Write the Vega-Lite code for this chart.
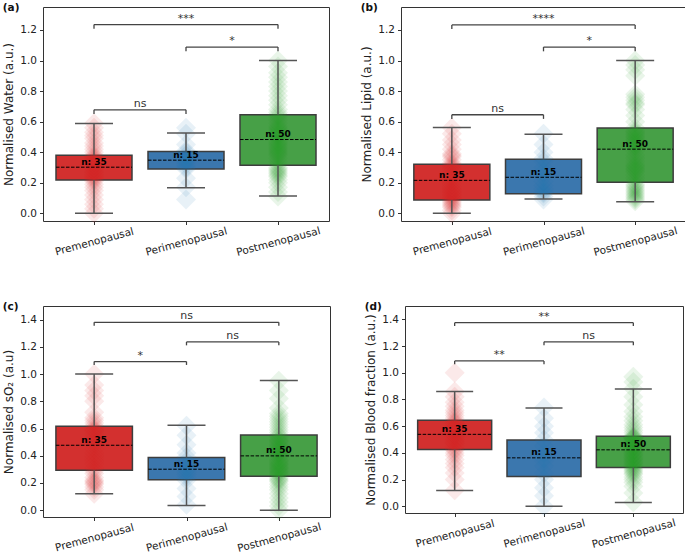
{
"$schema": "https://vega.github.io/schema/vega-lite/v6.json",
"background": "white",
"padding": {"left": 2, "top": 2, "right": 0, "bottom": 0},
"config": {
 "font": "DejaVu Sans",
 "view": {"stroke": "#333", "strokeWidth": 1},
 "axis": {"grid": false, "domain": false, "labelOverlap": false, "tickColor": "#333", "tickSize": 3.5, "tickWidth": 1, "labelFont": "DejaVu Sans", "labelFontSize": 10.5, "labelColor": "#222", "titleFont": "DejaVu Sans", "titleFontSize": 12, "titleFontWeight": "normal", "titleColor": "#222", "labelPadding": 3, "titlePadding": 4},
 "axisY": {"tickCount": 8, "format": ".1f", "labelOverlap": false},
 "title": {"font": "DejaVu Sans", "fontSize": 10.5, "fontWeight": "bold", "anchor": "start", "frame": "bounds", "offset": -6, "color": "#111"}
},
"datasets": {
 "box": [
  {"p":"a","g":0,"lo":0,"q1":0.218,"med":0.302,"q3":0.380,"hi":0.588,"n":"n: 35"},
  {"p":"a","g":1,"lo":0.168,"q1":0.29,"med":0.348,"q3":0.404,"hi":0.525,"n":"n: 15"},
  {"p":"a","g":2,"lo":0.113,"q1":0.315,"med":0.483,"q3":0.645,"hi":1.0,"n":"n: 50"},
  {"p":"b","g":0,"lo":0,"q1":0.087,"med":0.216,"q3":0.321,"hi":0.561,"n":"n: 35"},
  {"p":"b","g":1,"lo":0.094,"q1":0.129,"med":0.236,"q3":0.354,"hi":0.518,"n":"n: 15"},
  {"p":"b","g":2,"lo":0.076,"q1":0.203,"med":0.42,"q3":0.559,"hi":1.0,"n":"n: 50"},
  {"p":"c","g":0,"lo":0.12,"q1":0.294,"med":0.477,"q3":0.617,"hi":1.0,"n":"n: 35"},
  {"p":"c","g":1,"lo":0.035,"q1":0.223,"med":0.301,"q3":0.387,"hi":0.624,"n":"n: 15"},
  {"p":"c","g":2,"lo":0,"q1":0.25,"med":0.399,"q3":0.553,"hi":0.952,"n":"n: 50"},
  {"p":"d","g":0,"lo":0.118,"q1":0.426,"med":0.539,"q3":0.644,"hi":0.859,"n":"n: 35"},
  {"p":"d","g":1,"lo":0,"q1":0.223,"med":0.363,"q3":0.496,"hi":0.736,"n":"n: 15"},
  {"p":"d","g":2,"lo":0.028,"q1":0.291,"med":0.423,"q3":0.524,"hi":0.879,"n":"n: 50"}
 ],
 "br": [
  {"p":"a","x1":0,"x2":2,"xm":1,"y":1.235,"lo":1.208,"lab":"***"},
  {"p":"a","x1":1,"x2":2,"xm":1.5,"y":1.088,"lo":1.06,"lab":"*"},
  {"p":"a","x1":0,"x2":1,"xm":0.5,"y":0.677,"lo":0.65,"lab":"ns"},
  {"p":"b","x1":0,"x2":2,"xm":1,"y":1.233,"lo":1.206,"lab":"****"},
  {"p":"b","x1":1,"x2":2,"xm":1.5,"y":1.088,"lo":1.06,"lab":"*"},
  {"p":"b","x1":0,"x2":1,"xm":0.5,"y":0.645,"lo":0.618,"lab":"ns"},
  {"p":"c","x1":0,"x2":2,"xm":1,"y":1.38,"lo":1.355,"lab":"ns"},
  {"p":"c","x1":1,"x2":2,"xm":1.5,"y":1.236,"lo":1.211,"lab":"ns"},
  {"p":"c","x1":0,"x2":1,"xm":0.5,"y":1.092,"lo":1.067,"lab":"*"},
  {"p":"d","x1":0,"x2":2,"xm":1,"y":1.375,"lo":1.35,"lab":"**"},
  {"p":"d","x1":1,"x2":2,"xm":1.5,"y":1.232,"lo":1.207,"lab":"ns"},
  {"p":"d","x1":0,"x2":1,"xm":0.5,"y":1.089,"lo":1.064,"lab":"**"}
 ],
 "pts": [
  {"p":"a","g":0,"v":0.00},{"p":"a","g":0,"v":0.03},{"p":"a","g":0,"v":0.06},{"p":"a","g":0,"v":0.09},{"p":"a","g":0,"v":0.12},{"p":"a","g":0,"v":0.15},{"p":"a","g":0,"v":0.17},{"p":"a","g":0,"v":0.19},{"p":"a","g":0,"v":0.21},{"p":"a","g":0,"v":0.22},{"p":"a","g":0,"v":0.23},{"p":"a","g":0,"v":0.24},{"p":"a","g":0,"v":0.25},{"p":"a","g":0,"v":0.26},{"p":"a","g":0,"v":0.27},{"p":"a","g":0,"v":0.28},{"p":"a","g":0,"v":0.29},{"p":"a","g":0,"v":0.30},{"p":"a","g":0,"v":0.31},{"p":"a","g":0,"v":0.32},{"p":"a","g":0,"v":0.33},{"p":"a","g":0,"v":0.34},{"p":"a","g":0,"v":0.35},{"p":"a","g":0,"v":0.36},{"p":"a","g":0,"v":0.37},{"p":"a","g":0,"v":0.38},{"p":"a","g":0,"v":0.40},{"p":"a","g":0,"v":0.42},{"p":"a","g":0,"v":0.44},{"p":"a","g":0,"v":0.46},{"p":"a","g":0,"v":0.49},{"p":"a","g":0,"v":0.51},{"p":"a","g":0,"v":0.53},{"p":"a","g":0,"v":0.56},{"p":"a","g":0,"v":0.59},
  {"p":"a","g":1,"v":0.09},{"p":"a","g":1,"v":0.17},{"p":"a","g":1,"v":0.23},{"p":"a","g":1,"v":0.29},{"p":"a","g":1,"v":0.30},{"p":"a","g":1,"v":0.32},{"p":"a","g":1,"v":0.34},{"p":"a","g":1,"v":0.35},{"p":"a","g":1,"v":0.36},{"p":"a","g":1,"v":0.38},{"p":"a","g":1,"v":0.40},{"p":"a","g":1,"v":0.41},{"p":"a","g":1,"v":0.45},{"p":"a","g":1,"v":0.52},{"p":"a","g":1,"v":0.56},
  {"p":"a","g":2,"v":0.11},{"p":"a","g":2,"v":0.14},{"p":"a","g":2,"v":0.17},{"p":"a","g":2,"v":0.20},{"p":"a","g":2,"v":0.22},{"p":"a","g":2,"v":0.24},{"p":"a","g":2,"v":0.25},{"p":"a","g":2,"v":0.26},{"p":"a","g":2,"v":0.27},{"p":"a","g":2,"v":0.28},{"p":"a","g":2,"v":0.29},{"p":"a","g":2,"v":0.30},{"p":"a","g":2,"v":0.32},{"p":"a","g":2,"v":0.34},{"p":"a","g":2,"v":0.36},{"p":"a","g":2,"v":0.38},{"p":"a","g":2,"v":0.39},{"p":"a","g":2,"v":0.40},{"p":"a","g":2,"v":0.41},{"p":"a","g":2,"v":0.42},{"p":"a","g":2,"v":0.43},{"p":"a","g":2,"v":0.44},{"p":"a","g":2,"v":0.45},{"p":"a","g":2,"v":0.46},{"p":"a","g":2,"v":0.47},{"p":"a","g":2,"v":0.49},{"p":"a","g":2,"v":0.50},{"p":"a","g":2,"v":0.51},{"p":"a","g":2,"v":0.52},{"p":"a","g":2,"v":0.53},{"p":"a","g":2,"v":0.54},{"p":"a","g":2,"v":0.55},{"p":"a","g":2,"v":0.56},{"p":"a","g":2,"v":0.57},{"p":"a","g":2,"v":0.59},{"p":"a","g":2,"v":0.61},{"p":"a","g":2,"v":0.63},{"p":"a","g":2,"v":0.645},{"p":"a","g":2,"v":0.66},{"p":"a","g":2,"v":0.68},{"p":"a","g":2,"v":0.71},{"p":"a","g":2,"v":0.74},{"p":"a","g":2,"v":0.77},{"p":"a","g":2,"v":0.80},{"p":"a","g":2,"v":0.83},{"p":"a","g":2,"v":0.86},{"p":"a","g":2,"v":0.89},{"p":"a","g":2,"v":0.92},{"p":"a","g":2,"v":0.96},{"p":"a","g":2,"v":1.00},
  {"p":"b","g":0,"v":0.00},{"p":"b","g":0,"v":0.02},{"p":"b","g":0,"v":0.04},{"p":"b","g":0,"v":0.05},{"p":"b","g":0,"v":0.06},{"p":"b","g":0,"v":0.07},{"p":"b","g":0,"v":0.08},{"p":"b","g":0,"v":0.09},{"p":"b","g":0,"v":0.10},{"p":"b","g":0,"v":0.11},{"p":"b","g":0,"v":0.12},{"p":"b","g":0,"v":0.13},{"p":"b","g":0,"v":0.14},{"p":"b","g":0,"v":0.15},{"p":"b","g":0,"v":0.16},{"p":"b","g":0,"v":0.17},{"p":"b","g":0,"v":0.19},{"p":"b","g":0,"v":0.21},{"p":"b","g":0,"v":0.23},{"p":"b","g":0,"v":0.25},{"p":"b","g":0,"v":0.27},{"p":"b","g":0,"v":0.29},{"p":"b","g":0,"v":0.30},{"p":"b","g":0,"v":0.31},{"p":"b","g":0,"v":0.32},{"p":"b","g":0,"v":0.33},{"p":"b","g":0,"v":0.35},{"p":"b","g":0,"v":0.37},{"p":"b","g":0,"v":0.38},{"p":"b","g":0,"v":0.39},{"p":"b","g":0,"v":0.42},{"p":"b","g":0,"v":0.45},{"p":"b","g":0,"v":0.48},{"p":"b","g":0,"v":0.52},{"p":"b","g":0,"v":0.56},
  {"p":"b","g":1,"v":0.09},{"p":"b","g":1,"v":0.11},{"p":"b","g":1,"v":0.13},{"p":"b","g":1,"v":0.14},{"p":"b","g":1,"v":0.16},{"p":"b","g":1,"v":0.18},{"p":"b","g":1,"v":0.21},{"p":"b","g":1,"v":0.24},{"p":"b","g":1,"v":0.27},{"p":"b","g":1,"v":0.30},{"p":"b","g":1,"v":0.34},{"p":"b","g":1,"v":0.36},{"p":"b","g":1,"v":0.40},{"p":"b","g":1,"v":0.45},{"p":"b","g":1,"v":0.52},
  {"p":"b","g":2,"v":0.08},{"p":"b","g":2,"v":0.09},{"p":"b","g":2,"v":0.10},{"p":"b","g":2,"v":0.11},{"p":"b","g":2,"v":0.12},{"p":"b","g":2,"v":0.13},{"p":"b","g":2,"v":0.14},{"p":"b","g":2,"v":0.15},{"p":"b","g":2,"v":0.16},{"p":"b","g":2,"v":0.17},{"p":"b","g":2,"v":0.18},{"p":"b","g":2,"v":0.19},{"p":"b","g":2,"v":0.21},{"p":"b","g":2,"v":0.23},{"p":"b","g":2,"v":0.25},{"p":"b","g":2,"v":0.27},{"p":"b","g":2,"v":0.28},{"p":"b","g":2,"v":0.29},{"p":"b","g":2,"v":0.30},{"p":"b","g":2,"v":0.31},{"p":"b","g":2,"v":0.32},{"p":"b","g":2,"v":0.34},{"p":"b","g":2,"v":0.36},{"p":"b","g":2,"v":0.38},{"p":"b","g":2,"v":0.41},{"p":"b","g":2,"v":0.43},{"p":"b","g":2,"v":0.44},{"p":"b","g":2,"v":0.45},{"p":"b","g":2,"v":0.46},{"p":"b","g":2,"v":0.47},{"p":"b","g":2,"v":0.48},{"p":"b","g":2,"v":0.49},{"p":"b","g":2,"v":0.50},{"p":"b","g":2,"v":0.51},{"p":"b","g":2,"v":0.52},{"p":"b","g":2,"v":0.53},{"p":"b","g":2,"v":0.54},{"p":"b","g":2,"v":0.56},{"p":"b","g":2,"v":0.60},{"p":"b","g":2,"v":0.64},{"p":"b","g":2,"v":0.68},{"p":"b","g":2,"v":0.71},{"p":"b","g":2,"v":0.72},{"p":"b","g":2,"v":0.74},{"p":"b","g":2,"v":0.76},{"p":"b","g":2,"v":0.78},{"p":"b","g":2,"v":0.90},{"p":"b","g":2,"v":0.94},{"p":"b","g":2,"v":0.97},{"p":"b","g":2,"v":1.00},
  {"p":"c","g":0,"v":0.12},{"p":"c","g":0,"v":0.15},{"p":"c","g":0,"v":0.17},{"p":"c","g":0,"v":0.19},{"p":"c","g":0,"v":0.20},{"p":"c","g":0,"v":0.21},{"p":"c","g":0,"v":0.22},{"p":"c","g":0,"v":0.24},{"p":"c","g":0,"v":0.27},{"p":"c","g":0,"v":0.29},{"p":"c","g":0,"v":0.31},{"p":"c","g":0,"v":0.34},{"p":"c","g":0,"v":0.36},{"p":"c","g":0,"v":0.38},{"p":"c","g":0,"v":0.40},{"p":"c","g":0,"v":0.42},{"p":"c","g":0,"v":0.45},{"p":"c","g":0,"v":0.48},{"p":"c","g":0,"v":0.50},{"p":"c","g":0,"v":0.52},{"p":"c","g":0,"v":0.54},{"p":"c","g":0,"v":0.56},{"p":"c","g":0,"v":0.58},{"p":"c","g":0,"v":0.59},{"p":"c","g":0,"v":0.60},{"p":"c","g":0,"v":0.62},{"p":"c","g":0,"v":0.64},{"p":"c","g":0,"v":0.66},{"p":"c","g":0,"v":0.68},{"p":"c","g":0,"v":0.72},{"p":"c","g":0,"v":0.80},{"p":"c","g":0,"v":0.84},{"p":"c","g":0,"v":0.88},{"p":"c","g":0,"v":0.92},{"p":"c","g":0,"v":1.00},
  {"p":"c","g":1,"v":0.04},{"p":"c","g":1,"v":0.10},{"p":"c","g":1,"v":0.16},{"p":"c","g":1,"v":0.22},{"p":"c","g":1,"v":0.24},{"p":"c","g":1,"v":0.26},{"p":"c","g":1,"v":0.28},{"p":"c","g":1,"v":0.30},{"p":"c","g":1,"v":0.32},{"p":"c","g":1,"v":0.36},{"p":"c","g":1,"v":0.39},{"p":"c","g":1,"v":0.42},{"p":"c","g":1,"v":0.48},{"p":"c","g":1,"v":0.55},{"p":"c","g":1,"v":0.62},
  {"p":"c","g":2,"v":0.00},{"p":"c","g":2,"v":0.03},{"p":"c","g":2,"v":0.06},{"p":"c","g":2,"v":0.09},{"p":"c","g":2,"v":0.12},{"p":"c","g":2,"v":0.15},{"p":"c","g":2,"v":0.17},{"p":"c","g":2,"v":0.19},{"p":"c","g":2,"v":0.21},{"p":"c","g":2,"v":0.22},{"p":"c","g":2,"v":0.23},{"p":"c","g":2,"v":0.24},{"p":"c","g":2,"v":0.26},{"p":"c","g":2,"v":0.27},{"p":"c","g":2,"v":0.28},{"p":"c","g":2,"v":0.29},{"p":"c","g":2,"v":0.30},{"p":"c","g":2,"v":0.31},{"p":"c","g":2,"v":0.32},{"p":"c","g":2,"v":0.33},{"p":"c","g":2,"v":0.34},{"p":"c","g":2,"v":0.35},{"p":"c","g":2,"v":0.36},{"p":"c","g":2,"v":0.37},{"p":"c","g":2,"v":0.39},{"p":"c","g":2,"v":0.41},{"p":"c","g":2,"v":0.42},{"p":"c","g":2,"v":0.43},{"p":"c","g":2,"v":0.44},{"p":"c","g":2,"v":0.45},{"p":"c","g":2,"v":0.46},{"p":"c","g":2,"v":0.47},{"p":"c","g":2,"v":0.48},{"p":"c","g":2,"v":0.50},{"p":"c","g":2,"v":0.51},{"p":"c","g":2,"v":0.52},{"p":"c","g":2,"v":0.54},{"p":"c","g":2,"v":0.55},{"p":"c","g":2,"v":0.57},{"p":"c","g":2,"v":0.59},{"p":"c","g":2,"v":0.61},{"p":"c","g":2,"v":0.63},{"p":"c","g":2,"v":0.65},{"p":"c","g":2,"v":0.67},{"p":"c","g":2,"v":0.69},{"p":"c","g":2,"v":0.71},{"p":"c","g":2,"v":0.75},{"p":"c","g":2,"v":0.82},{"p":"c","g":2,"v":0.88},{"p":"c","g":2,"v":0.95},
  {"p":"d","g":0,"v":0.12},{"p":"d","g":0,"v":0.20},{"p":"d","g":0,"v":0.25},{"p":"d","g":0,"v":0.29},{"p":"d","g":0,"v":0.32},{"p":"d","g":0,"v":0.35},{"p":"d","g":0,"v":0.38},{"p":"d","g":0,"v":0.40},{"p":"d","g":0,"v":0.42},{"p":"d","g":0,"v":0.43},{"p":"d","g":0,"v":0.45},{"p":"d","g":0,"v":0.47},{"p":"d","g":0,"v":0.48},{"p":"d","g":0,"v":0.49},{"p":"d","g":0,"v":0.50},{"p":"d","g":0,"v":0.52},{"p":"d","g":0,"v":0.53},{"p":"d","g":0,"v":0.54},{"p":"d","g":0,"v":0.55},{"p":"d","g":0,"v":0.57},{"p":"d","g":0,"v":0.58},{"p":"d","g":0,"v":0.59},{"p":"d","g":0,"v":0.60},{"p":"d","g":0,"v":0.62},{"p":"d","g":0,"v":0.63},{"p":"d","g":0,"v":0.64},{"p":"d","g":0,"v":0.66},{"p":"d","g":0,"v":0.68},{"p":"d","g":0,"v":0.70},{"p":"d","g":0,"v":0.72},{"p":"d","g":0,"v":0.75},{"p":"d","g":0,"v":0.78},{"p":"d","g":0,"v":0.82},{"p":"d","g":0,"v":0.86},{"p":"d","g":0,"v":1.00},
  {"p":"d","g":1,"v":0.00},{"p":"d","g":1,"v":0.08},{"p":"d","g":1,"v":0.14},{"p":"d","g":1,"v":0.20},{"p":"d","g":1,"v":0.25},{"p":"d","g":1,"v":0.30},{"p":"d","g":1,"v":0.34},{"p":"d","g":1,"v":0.36},{"p":"d","g":1,"v":0.40},{"p":"d","g":1,"v":0.45},{"p":"d","g":1,"v":0.50},{"p":"d","g":1,"v":0.55},{"p":"d","g":1,"v":0.60},{"p":"d","g":1,"v":0.66},{"p":"d","g":1,"v":0.74},
  {"p":"d","g":2,"v":0.03},{"p":"d","g":2,"v":0.10},{"p":"d","g":2,"v":0.15},{"p":"d","g":2,"v":0.18},{"p":"d","g":2,"v":0.20},{"p":"d","g":2,"v":0.22},{"p":"d","g":2,"v":0.24},{"p":"d","g":2,"v":0.25},{"p":"d","g":2,"v":0.26},{"p":"d","g":2,"v":0.27},{"p":"d","g":2,"v":0.28},{"p":"d","g":2,"v":0.29},{"p":"d","g":2,"v":0.30},{"p":"d","g":2,"v":0.31},{"p":"d","g":2,"v":0.32},{"p":"d","g":2,"v":0.33},{"p":"d","g":2,"v":0.34},{"p":"d","g":2,"v":0.35},{"p":"d","g":2,"v":0.36},{"p":"d","g":2,"v":0.37},{"p":"d","g":2,"v":0.38},{"p":"d","g":2,"v":0.39},{"p":"d","g":2,"v":0.40},{"p":"d","g":2,"v":0.41},{"p":"d","g":2,"v":0.42},{"p":"d","g":2,"v":0.43},{"p":"d","g":2,"v":0.44},{"p":"d","g":2,"v":0.45},{"p":"d","g":2,"v":0.46},{"p":"d","g":2,"v":0.47},{"p":"d","g":2,"v":0.48},{"p":"d","g":2,"v":0.49},{"p":"d","g":2,"v":0.50},{"p":"d","g":2,"v":0.51},{"p":"d","g":2,"v":0.51},{"p":"d","g":2,"v":0.52},{"p":"d","g":2,"v":0.52},{"p":"d","g":2,"v":0.53},{"p":"d","g":2,"v":0.55},{"p":"d","g":2,"v":0.57},{"p":"d","g":2,"v":0.59},{"p":"d","g":2,"v":0.61},{"p":"d","g":2,"v":0.64},{"p":"d","g":2,"v":0.67},{"p":"d","g":2,"v":0.71},{"p":"d","g":2,"v":0.76},{"p":"d","g":2,"v":0.82},{"p":"d","g":2,"v":0.88},{"p":"d","g":2,"v":0.93},{"p":"d","g":2,"v":0.97}
 ]
},
"spacing": 42,
"vconcat": [
{"spacing": 30, "hconcat": [
 {"title": {"text": "(a)"}, "width": 286, "height": 214,
  "encoding": {"x": {"field": "g", "type": "quantitative", "scale": {"domain": [-0.5, 2.5], "nice": false, "zero": false}, "axis": {"values": [0,1,2], "labelExpr": "['Premenopausal','Perimenopausal','Postmenopausal'][datum.value]", "labelAngle": -15, "labelAlign": "center", "labelBaseline": "middle", "labelPadding": 17, "title": null}}},
  "layer": [
   {"data": {"name": "box"}, "transform": [{"filter": "datum.p=='a'"}], "mark": {"type": "bar", "size": 76, "stroke": "#3d3d3d", "strokeWidth": 1.5},
    "encoding": {"y": {"field": "q1", "type": "quantitative", "scale": {"domain": [-0.05, 1.35], "nice": false, "zero": false}, "axis": {"values": [0,0.2,0.4,0.6,0.8,1,1.2], "tickCount": 8, "labelOverlap": false, "format": ".1f", "title": "Normalised Water (a.u.)"}}, "y2": {"field": "q3"}, "fill": {"field": "g", "type": "nominal", "scale": {"domain": [0,1,2], "range": ["#d3302f","#3b77ae","#47a047"]}, "legend": null}}},
   {"data": {"name": "pts"}, "transform": [{"filter": "datum.p=='a'"}], "mark": {"type": "point", "shape": "diamond", "filled": true, "size": 400, "opacity": 0.1},
    "encoding": {"y": {"field": "v", "type": "quantitative"}, "color": {"field": "g", "type": "nominal", "scale": {"domain": [0,1,2], "range": ["#d62728","#1f77b4","#2ca02c"]}, "legend": null}}},
   {"data": {"name": "box"}, "transform": [{"filter": "datum.p=='a'"}], "mark": {"type": "rule", "color": "#555", "strokeWidth": 1.5}, "encoding": {"y": {"field": "lo", "type": "quantitative"}, "y2": {"field": "q1"}}},
   {"data": {"name": "box"}, "transform": [{"filter": "datum.p=='a'"}], "mark": {"type": "rule", "color": "#555", "strokeWidth": 1.5}, "encoding": {"y": {"field": "q3", "type": "quantitative"}, "y2": {"field": "hi"}}},
   {"data": {"name": "box"}, "transform": [{"filter": "datum.p=='a'"}], "mark": {"type": "tick", "orient": "horizontal", "size": 38, "thickness": 1.5, "color": "#555", "opacity": 1}, "encoding": {"y": {"field": "lo", "type": "quantitative"}}},
   {"data": {"name": "box"}, "transform": [{"filter": "datum.p=='a'"}], "mark": {"type": "tick", "orient": "horizontal", "size": 38, "thickness": 1.5, "color": "#555", "opacity": 1}, "encoding": {"y": {"field": "hi", "type": "quantitative"}}},
   {"data": {"name": "box"}, "transform": [{"filter": "datum.p=='a'"}], "mark": {"type": "point", "shape": "M-1,0L1,0", "size": 5776, "filled": false, "color": "black", "strokeWidth": 1, "strokeDash": [3.5, 1.5], "opacity": 1}, "encoding": {"y": {"field": "med", "type": "quantitative"}}},
   {"data": {"name": "box"}, "transform": [{"filter": "datum.p=='a'"}], "mark": {"type": "text", "fontWeight": "bold", "fontSize": 9, "dy": -2.5, "baseline": "alphabetic", "color": "black"}, "encoding": {"y": {"field": "med", "type": "quantitative"}, "text": {"field": "n"}}},
   {"data": {"name": "br"}, "transform": [{"filter": "datum.p=='a'"}], "mark": {"type": "rule", "color": "#444", "strokeWidth": 1.3}, "encoding": {"x": {"field": "x1", "type": "quantitative"}, "x2": {"field": "x2"}, "y": {"field": "y", "type": "quantitative"}}},
   {"data": {"name": "br"}, "transform": [{"filter": "datum.p=='a'"}], "mark": {"type": "rule", "color": "#444", "strokeWidth": 1.3}, "encoding": {"x": {"field": "x1", "type": "quantitative"}, "y": {"field": "y", "type": "quantitative"}, "y2": {"field": "lo"}}},
   {"data": {"name": "br"}, "transform": [{"filter": "datum.p=='a'"}], "mark": {"type": "rule", "color": "#444", "strokeWidth": 1.3}, "encoding": {"x": {"field": "x2", "type": "quantitative"}, "y": {"field": "y", "type": "quantitative"}, "y2": {"field": "lo"}}},
   {"data": {"name": "br"}, "transform": [{"filter": "datum.p=='a'"}], "mark": {"type": "text", "fontSize": 11, "dy": -3, "baseline": "alphabetic", "color": "#333"}, "encoding": {"x": {"field": "xm", "type": "quantitative"}, "y": {"field": "y", "type": "quantitative"}, "text": {"field": "lab"}}}
  ]},
 {"title": {"text": "(b)"}, "width": 285, "height": 214,
  "encoding": {"x": {"field": "g", "type": "quantitative", "scale": {"domain": [-0.5, 2.5], "nice": false, "zero": false}, "axis": {"values": [0,1,2], "labelExpr": "['Premenopausal','Perimenopausal','Postmenopausal'][datum.value]", "labelAngle": -15, "labelAlign": "center", "labelBaseline": "middle", "labelPadding": 17, "title": null}}},
  "layer": [
   {"data": {"name": "box"}, "transform": [{"filter": "datum.p=='b'"}], "mark": {"type": "bar", "size": 76, "stroke": "#3d3d3d", "strokeWidth": 1.5},
    "encoding": {"y": {"field": "q1", "type": "quantitative", "scale": {"domain": [-0.05, 1.35], "nice": false, "zero": false}, "axis": {"values": [0,0.2,0.4,0.6,0.8,1,1.2], "tickCount": 8, "labelOverlap": false, "format": ".1f", "title": "Normalised Lipid (a.u.)"}}, "y2": {"field": "q3"}, "fill": {"field": "g", "type": "nominal", "scale": {"domain": [0,1,2], "range": ["#d3302f","#3b77ae","#47a047"]}, "legend": null}}},
   {"data": {"name": "pts"}, "transform": [{"filter": "datum.p=='b'"}], "mark": {"type": "point", "shape": "diamond", "filled": true, "size": 400, "opacity": 0.1},
    "encoding": {"y": {"field": "v", "type": "quantitative"}, "color": {"field": "g", "type": "nominal", "scale": {"domain": [0,1,2], "range": ["#d62728","#1f77b4","#2ca02c"]}, "legend": null}}},
   {"data": {"name": "box"}, "transform": [{"filter": "datum.p=='b'"}], "mark": {"type": "rule", "color": "#555", "strokeWidth": 1.5}, "encoding": {"y": {"field": "lo", "type": "quantitative"}, "y2": {"field": "q1"}}},
   {"data": {"name": "box"}, "transform": [{"filter": "datum.p=='b'"}], "mark": {"type": "rule", "color": "#555", "strokeWidth": 1.5}, "encoding": {"y": {"field": "q3", "type": "quantitative"}, "y2": {"field": "hi"}}},
   {"data": {"name": "box"}, "transform": [{"filter": "datum.p=='b'"}], "mark": {"type": "tick", "orient": "horizontal", "size": 38, "thickness": 1.5, "color": "#555", "opacity": 1}, "encoding": {"y": {"field": "lo", "type": "quantitative"}}},
   {"data": {"name": "box"}, "transform": [{"filter": "datum.p=='b'"}], "mark": {"type": "tick", "orient": "horizontal", "size": 38, "thickness": 1.5, "color": "#555", "opacity": 1}, "encoding": {"y": {"field": "hi", "type": "quantitative"}}},
   {"data": {"name": "box"}, "transform": [{"filter": "datum.p=='b'"}], "mark": {"type": "point", "shape": "M-1,0L1,0", "size": 5776, "filled": false, "color": "black", "strokeWidth": 1, "strokeDash": [3.5, 1.5], "opacity": 1}, "encoding": {"y": {"field": "med", "type": "quantitative"}}},
   {"data": {"name": "box"}, "transform": [{"filter": "datum.p=='b'"}], "mark": {"type": "text", "fontWeight": "bold", "fontSize": 9, "dy": -2.5, "baseline": "alphabetic", "color": "black"}, "encoding": {"y": {"field": "med", "type": "quantitative"}, "text": {"field": "n"}}},
   {"data": {"name": "br"}, "transform": [{"filter": "datum.p=='b'"}], "mark": {"type": "rule", "color": "#444", "strokeWidth": 1.3}, "encoding": {"x": {"field": "x1", "type": "quantitative"}, "x2": {"field": "x2"}, "y": {"field": "y", "type": "quantitative"}}},
   {"data": {"name": "br"}, "transform": [{"filter": "datum.p=='b'"}], "mark": {"type": "rule", "color": "#444", "strokeWidth": 1.3}, "encoding": {"x": {"field": "x1", "type": "quantitative"}, "y": {"field": "y", "type": "quantitative"}, "y2": {"field": "lo"}}},
   {"data": {"name": "br"}, "transform": [{"filter": "datum.p=='b'"}], "mark": {"type": "rule", "color": "#444", "strokeWidth": 1.3}, "encoding": {"x": {"field": "x2", "type": "quantitative"}, "y": {"field": "y", "type": "quantitative"}, "y2": {"field": "lo"}}},
   {"data": {"name": "br"}, "transform": [{"filter": "datum.p=='b'"}], "mark": {"type": "text", "fontSize": 11, "dy": -3, "baseline": "alphabetic", "color": "#333"}, "encoding": {"x": {"field": "xm", "type": "quantitative"}, "y": {"field": "y", "type": "quantitative"}, "text": {"field": "lab"}}}
  ]}
]},
{"spacing": 33, "hconcat": [
 {"title": {"text": "(c)"}, "width": 287, "height": 211,
  "encoding": {"x": {"field": "g", "type": "quantitative", "scale": {"domain": [-0.5, 2.5], "nice": false, "zero": false}, "axis": {"values": [0,1,2], "labelExpr": "['Premenopausal','Perimenopausal','Postmenopausal'][datum.value]", "labelAngle": -15, "labelAlign": "center", "labelBaseline": "middle", "labelPadding": 17, "title": null}}},
  "layer": [
   {"data": {"name": "box"}, "transform": [{"filter": "datum.p=='c'"}], "mark": {"type": "bar", "size": 76.5, "stroke": "#3d3d3d", "strokeWidth": 1.5},
    "encoding": {"y": {"field": "q1", "type": "quantitative", "scale": {"domain": [-0.05, 1.5], "nice": false, "zero": false}, "axis": {"values": [0,0.2,0.4,0.6,0.8,1,1.2,1.4], "tickCount": 8, "labelOverlap": false, "format": ".1f", "title": "Normalised sO₂ (a.u)"}}, "y2": {"field": "q3"}, "fill": {"field": "g", "type": "nominal", "scale": {"domain": [0,1,2], "range": ["#d3302f","#3b77ae","#47a047"]}, "legend": null}}},
   {"data": {"name": "pts"}, "transform": [{"filter": "datum.p=='c'"}], "mark": {"type": "point", "shape": "diamond", "filled": true, "size": 400, "opacity": 0.1},
    "encoding": {"y": {"field": "v", "type": "quantitative"}, "color": {"field": "g", "type": "nominal", "scale": {"domain": [0,1,2], "range": ["#d62728","#1f77b4","#2ca02c"]}, "legend": null}}},
   {"data": {"name": "box"}, "transform": [{"filter": "datum.p=='c'"}], "mark": {"type": "rule", "color": "#555", "strokeWidth": 1.5}, "encoding": {"y": {"field": "lo", "type": "quantitative"}, "y2": {"field": "q1"}}},
   {"data": {"name": "box"}, "transform": [{"filter": "datum.p=='c'"}], "mark": {"type": "rule", "color": "#555", "strokeWidth": 1.5}, "encoding": {"y": {"field": "q3", "type": "quantitative"}, "y2": {"field": "hi"}}},
   {"data": {"name": "box"}, "transform": [{"filter": "datum.p=='c'"}], "mark": {"type": "tick", "orient": "horizontal", "size": 38, "thickness": 1.5, "color": "#555", "opacity": 1}, "encoding": {"y": {"field": "lo", "type": "quantitative"}}},
   {"data": {"name": "box"}, "transform": [{"filter": "datum.p=='c'"}], "mark": {"type": "tick", "orient": "horizontal", "size": 38, "thickness": 1.5, "color": "#555", "opacity": 1}, "encoding": {"y": {"field": "hi", "type": "quantitative"}}},
   {"data": {"name": "box"}, "transform": [{"filter": "datum.p=='c'"}], "mark": {"type": "point", "shape": "M-1,0L1,0", "size": 5852, "filled": false, "color": "black", "strokeWidth": 1, "strokeDash": [3.5, 1.5], "opacity": 1}, "encoding": {"y": {"field": "med", "type": "quantitative"}}},
   {"data": {"name": "box"}, "transform": [{"filter": "datum.p=='c'"}], "mark": {"type": "text", "fontWeight": "bold", "fontSize": 9, "dy": -2.5, "baseline": "alphabetic", "color": "black"}, "encoding": {"y": {"field": "med", "type": "quantitative"}, "text": {"field": "n"}}},
   {"data": {"name": "br"}, "transform": [{"filter": "datum.p=='c'"}], "mark": {"type": "rule", "color": "#444", "strokeWidth": 1.3}, "encoding": {"x": {"field": "x1", "type": "quantitative"}, "x2": {"field": "x2"}, "y": {"field": "y", "type": "quantitative"}}},
   {"data": {"name": "br"}, "transform": [{"filter": "datum.p=='c'"}], "mark": {"type": "rule", "color": "#444", "strokeWidth": 1.3}, "encoding": {"x": {"field": "x1", "type": "quantitative"}, "y": {"field": "y", "type": "quantitative"}, "y2": {"field": "lo"}}},
   {"data": {"name": "br"}, "transform": [{"filter": "datum.p=='c'"}], "mark": {"type": "rule", "color": "#444", "strokeWidth": 1.3}, "encoding": {"x": {"field": "x2", "type": "quantitative"}, "y": {"field": "y", "type": "quantitative"}, "y2": {"field": "lo"}}},
   {"data": {"name": "br"}, "transform": [{"filter": "datum.p=='c'"}], "mark": {"type": "text", "fontSize": 11, "dy": -3, "baseline": "alphabetic", "color": "#333"}, "encoding": {"x": {"field": "xm", "type": "quantitative"}, "y": {"field": "y", "type": "quantitative"}, "text": {"field": "lab"}}}
  ]},
 {"title": {"text": "(d)"}, "width": 278, "height": 207,
  "encoding": {"x": {"field": "g", "type": "quantitative", "scale": {"domain": [-0.5, 2.5], "nice": false, "zero": false}, "axis": {"values": [0,1,2], "labelExpr": "['Premenopausal','Perimenopausal','Postmenopausal'][datum.value]", "labelAngle": -15, "labelAlign": "center", "labelBaseline": "middle", "labelPadding": 17, "title": null}}},
  "layer": [
   {"data": {"name": "box"}, "transform": [{"filter": "datum.p=='d'"}], "mark": {"type": "bar", "size": 74, "stroke": "#3d3d3d", "strokeWidth": 1.5},
    "encoding": {"y": {"field": "q1", "type": "quantitative", "scale": {"domain": [-0.05, 1.5], "nice": false, "zero": false}, "axis": {"values": [0,0.2,0.4,0.6,0.8,1,1.2,1.4], "tickCount": 8, "labelOverlap": false, "format": ".1f", "title": "Normalised Blood fraction (a.u.)"}}, "y2": {"field": "q3"}, "fill": {"field": "g", "type": "nominal", "scale": {"domain": [0,1,2], "range": ["#d3302f","#3b77ae","#47a047"]}, "legend": null}}},
   {"data": {"name": "pts"}, "transform": [{"filter": "datum.p=='d'"}], "mark": {"type": "point", "shape": "diamond", "filled": true, "size": 400, "opacity": 0.1},
    "encoding": {"y": {"field": "v", "type": "quantitative"}, "color": {"field": "g", "type": "nominal", "scale": {"domain": [0,1,2], "range": ["#d62728","#1f77b4","#2ca02c"]}, "legend": null}}},
   {"data": {"name": "box"}, "transform": [{"filter": "datum.p=='d'"}], "mark": {"type": "rule", "color": "#555", "strokeWidth": 1.5}, "encoding": {"y": {"field": "lo", "type": "quantitative"}, "y2": {"field": "q1"}}},
   {"data": {"name": "box"}, "transform": [{"filter": "datum.p=='d'"}], "mark": {"type": "rule", "color": "#555", "strokeWidth": 1.5}, "encoding": {"y": {"field": "q3", "type": "quantitative"}, "y2": {"field": "hi"}}},
   {"data": {"name": "box"}, "transform": [{"filter": "datum.p=='d'"}], "mark": {"type": "tick", "orient": "horizontal", "size": 37, "thickness": 1.5, "color": "#555", "opacity": 1}, "encoding": {"y": {"field": "lo", "type": "quantitative"}}},
   {"data": {"name": "box"}, "transform": [{"filter": "datum.p=='d'"}], "mark": {"type": "tick", "orient": "horizontal", "size": 37, "thickness": 1.5, "color": "#555", "opacity": 1}, "encoding": {"y": {"field": "hi", "type": "quantitative"}}},
   {"data": {"name": "box"}, "transform": [{"filter": "datum.p=='d'"}], "mark": {"type": "point", "shape": "M-1,0L1,0", "size": 5476, "filled": false, "color": "black", "strokeWidth": 1, "strokeDash": [3.5, 1.5], "opacity": 1}, "encoding": {"y": {"field": "med", "type": "quantitative"}}},
   {"data": {"name": "box"}, "transform": [{"filter": "datum.p=='d'"}], "mark": {"type": "text", "fontWeight": "bold", "fontSize": 9, "dy": -2.5, "baseline": "alphabetic", "color": "black"}, "encoding": {"y": {"field": "med", "type": "quantitative"}, "text": {"field": "n"}}},
   {"data": {"name": "br"}, "transform": [{"filter": "datum.p=='d'"}], "mark": {"type": "rule", "color": "#444", "strokeWidth": 1.3}, "encoding": {"x": {"field": "x1", "type": "quantitative"}, "x2": {"field": "x2"}, "y": {"field": "y", "type": "quantitative"}}},
   {"data": {"name": "br"}, "transform": [{"filter": "datum.p=='d'"}], "mark": {"type": "rule", "color": "#444", "strokeWidth": 1.3}, "encoding": {"x": {"field": "x1", "type": "quantitative"}, "y": {"field": "y", "type": "quantitative"}, "y2": {"field": "lo"}}},
   {"data": {"name": "br"}, "transform": [{"filter": "datum.p=='d'"}], "mark": {"type": "rule", "color": "#444", "strokeWidth": 1.3}, "encoding": {"x": {"field": "x2", "type": "quantitative"}, "y": {"field": "y", "type": "quantitative"}, "y2": {"field": "lo"}}},
   {"data": {"name": "br"}, "transform": [{"filter": "datum.p=='d'"}], "mark": {"type": "text", "fontSize": 11, "dy": -3, "baseline": "alphabetic", "color": "#333"}, "encoding": {"x": {"field": "xm", "type": "quantitative"}, "y": {"field": "y", "type": "quantitative"}, "text": {"field": "lab"}}}
  ]}
]}
]
}
